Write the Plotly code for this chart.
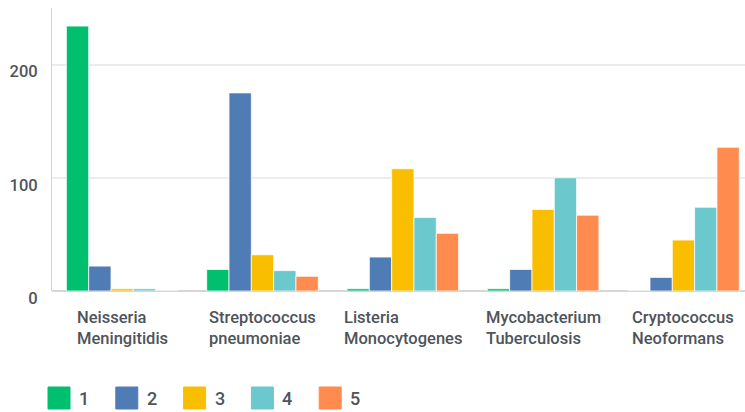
import plotly.graph_objects as go

# Categories (organisms) and the five rating series
categories = ["Neisseria<br>Meningitidis", "Streptococcus<br>pneumoniae",
              "Listeria<br>Monocytogenes", "Mycobacterium<br>Tuberculosis",
              "Cryptococcus<br>Neoformans"]
series_names = ["1", "2", "3", "4", "5"]
s1 = [234, 19, 2, 2, 0]
s2 = [22, 175, 30, 19, 12]
s3 = [2, 32, 108, 72, 45]
s4 = [2, 18, 65, 100, 74]
s5 = [0, 13, 51, 67, 127]
series_values = [s1, s2, s3, s4, s5]
colors = ["#00bf6f", "#507cb6", "#f9be00", "#6bc8cd", "#ff8b4f"]
y_ticks = [0, 100, 200]

W, H = 745, 412
L, R, T, B = 52, 0, 8, 121
TEXT = "#4f545a"
FONT = "Roboto"

idx = list(range(len(categories)))

fig = go.Figure()
for name, vals, col in zip(series_names, series_values, colors):
    fig.add_trace(go.Bar(
        x=idx, y=vals, name=name,
        marker=dict(color=col, line=dict(color="rgba(255,255,255,0.75)", width=1)),
        showlegend=False,
    ))

# px -> paper helpers for the hand-drawn legend and category labels
pw, ph = W - L - R, H - T - B
def px_x(p):
    return (p - L) / pw
def px_y(p):
    return (H - B - p) / ph

annotations = []
for i, cat in enumerate(categories):
    annotations.append(dict(
        x=i, xref="x", y=0, yref="paper", yanchor="top", xanchor="center",
        yshift=-15, text=cat, align="left", showarrow=False,
        font=dict(family=FONT, size=16.5, color=TEXT, weight=500),
    ))

shapes = []
leg_x0, leg_step, sq = 48, 67.8, 22
for k, (name, col) in enumerate(zip(series_names, colors)):
    x0 = leg_x0 + k * leg_step
    shapes.append(dict(
        type="rect", xref="paper", yref="paper",
        x0=px_x(x0), x1=px_x(x0 + sq), y0=px_y(387), y1=px_y(387 + sq),
        fillcolor=col, line=dict(color=col, width=1), layer="above",
    ))
    annotations.append(dict(
        x=px_x(x0 + 29), xref="paper", y=px_y(398), yref="paper",
        xanchor="left", yanchor="middle", text=name, showarrow=False,
        font=dict(family=FONT, size=18, color=TEXT, weight=500),
    ))

fig.update_layout(
    width=W, height=H,
    margin=dict(l=L, r=R, t=T, b=B, pad=0),
    paper_bgcolor="white", plot_bgcolor="white",
    barmode="group", bargap=0.205, bargroupgap=0,
    showlegend=False,
    font=dict(family=FONT, color=TEXT),
    annotations=annotations, shapes=shapes,
)
fig.update_xaxes(
    range=[-0.5, 4.4385], tickvals=idx, showticklabels=False,
    showgrid=False, zeroline=False, showline=False, ticks="",
)
fig.update_yaxes(
    range=[0, 250], tickvals=y_ticks, ticktext=[str(v) for v in y_ticks],
    showgrid=True, gridcolor="#ececec", gridwidth=1.5,
    zeroline=True, zerolinecolor="#d6d6d6", zerolinewidth=2,
    showline=True, linecolor="#d3d3d3", linewidth=1,
    ticks="", ticklabelstandoff=10, ticklabelshift=7,
    tickfont=dict(family=FONT, size=16.5, color=TEXT, weight=500),
)

fig.write_html("out.html")
